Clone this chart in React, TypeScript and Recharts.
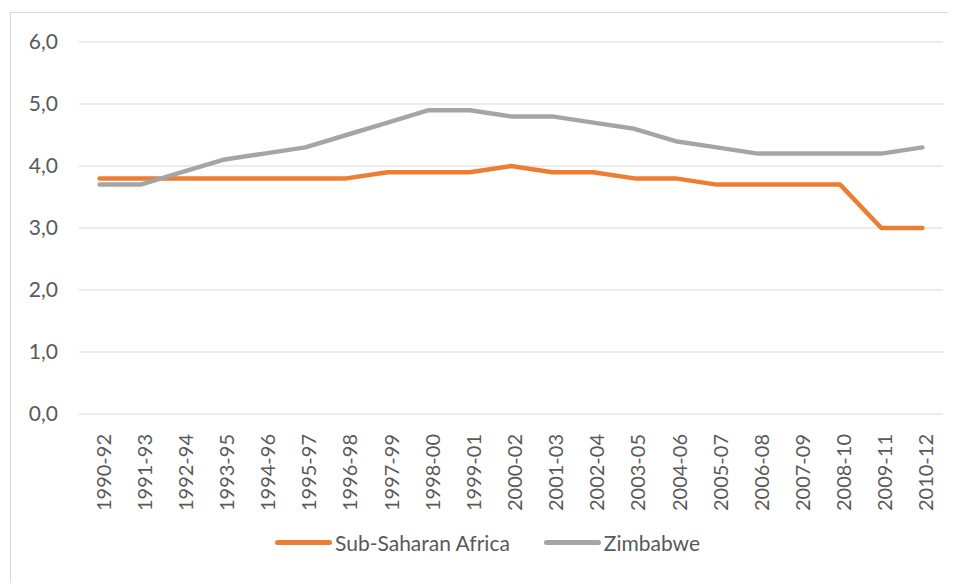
import { CartesianGrid, Legend, Line, LineChart, XAxis, YAxis } from "recharts";

const periods = [
    "1990-92", "1991-93", "1992-94", "1993-95", "1994-96", "1995-97", "1996-98",
    "1997-99", "1998-00", "1999-01", "2000-02", "2001-03", "2002-04", "2003-05",
    "2004-06", "2005-07", "2006-08", "2007-09", "2008-10", "2009-11", "2010-12",
];
const subSaharanAfrica = [
    3.8, 3.8, 3.8, 3.8, 3.8, 3.8, 3.8, 3.9, 3.9, 3.9, 4.0,
    3.9, 3.9, 3.8, 3.8, 3.7, 3.7, 3.7, 3.7, 3.0, 3.0,
];
const zimbabwe = [
    3.7, 3.7, 3.9, 4.1, 4.2, 4.3, 4.5, 4.7, 4.9, 4.9, 4.8,
    4.8, 4.7, 4.6, 4.4, 4.3, 4.2, 4.2, 4.2, 4.2, 4.3,
];
const yTicks = [0, 1, 2, 3, 4, 5, 6];

const ORANGE = "#ED7D31";
const GRAY = "#A5A5A5";
const TEXT = "#595959";
const FONT = "Lato, 'Open Sans', sans-serif";

const data = periods.map((period, i) => ({
    period,
    ssa: subSaharanAfrica[i],
    zim: zimbabwe[i],
}));

const series = [
    { key: "ssa", name: "Sub-Saharan Africa", color: ORANGE },
    { key: "zim", name: "Zimbabwe", color: GRAY },
];

// half a category band on each side, like Excel's "between tick marks"
const halfBand = 864 / periods.length / 2;

const PeriodTick = ({ x, y, payload }: any) => (
    <g transform={`translate(${x + 3},${y + 18})`}>
        <text
            x={0}
            y={0}
            transform="rotate(-90)"
            textAnchor="end"
            dominantBaseline="central"
            fill={TEXT}
            fontSize={20}
            fontFamily={FONT}
        >
            {payload.value}
        </text>
    </g>
);

const LegendContent = () => (
    <div style={{ display: "flex", alignItems: "center", paddingLeft: 264, fontFamily: FONT, fontSize: 21, color: TEXT }}>
        {series.map((s, i) => (
            <div key={s.key} style={{ display: "flex", alignItems: "center", marginLeft: i === 0 ? 0 : 34 }}>
                <span style={{ display: "inline-block", width: 57, height: 5, borderRadius: 3, background: s.color, marginRight: 3 }} />
                <span>{s.name}</span>
            </div>
        ))}
    </div>
);

export default function App() {
    return (
        <div style={{ width: 949, height: 575, overflow: "hidden", position: "relative" }}>
            <div style={{ position: "absolute", left: 2, top: 4, width: 960, height: 580, border: "1px solid #D9D9D9", background: "#fff" }}>
                <LineChart width={945} height={565} data={data} margin={{ top: 29, right: 13, left: 0, bottom: 8 }}>
                    <CartesianGrid vertical={false} stroke="#D9D9D9" strokeWidth={1} />
                    <XAxis
                        dataKey="period"
                        axisLine={false}
                        tickLine={false}
                        tickSize={0}
                        interval={0}
                        height={116}
                        padding={{ left: halfBand, right: halfBand }}
                        tick={<PeriodTick />}
                    />
                    <YAxis
                        domain={[0, 6]}
                        ticks={yTicks}
                        width={68}
                        axisLine={false}
                        tickLine={false}
                        tickSize={0}
                        tickMargin={21}
                        tickFormatter={(v: number) => v.toFixed(1).replace(".", ",")}
                        tick={{ fill: TEXT, fontSize: 21, fontFamily: FONT }}
                    />
                    <Legend verticalAlign="bottom" height={40} content={<LegendContent />} />
                    {series.map((s) => (
                        <Line
                            key={s.key}
                            type="linear"
                            dataKey={s.key}
                            name={s.name}
                            stroke={s.color}
                            strokeWidth={4.5}
                            strokeLinecap="round"
                            strokeLinejoin="round"
                            dot={false}
                            activeDot={false}
                            isAnimationActive={false}
                        />
                    ))}
                </LineChart>
            </div>
        </div>
    );
}
